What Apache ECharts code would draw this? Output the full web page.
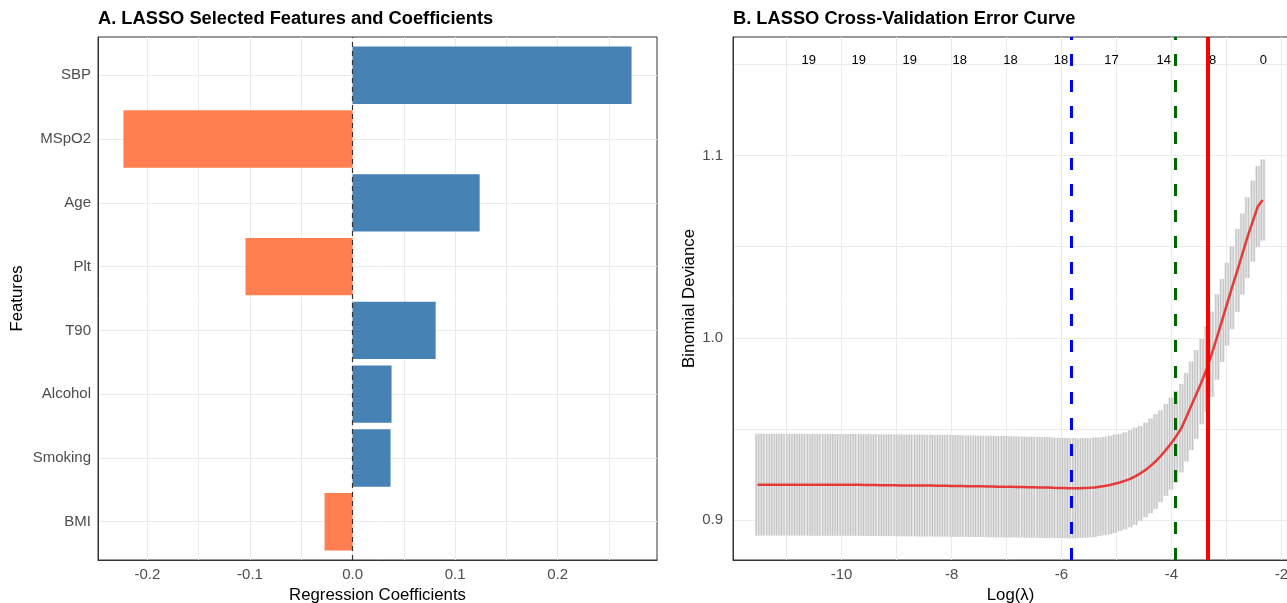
<!DOCTYPE html>
<html><head><meta charset="utf-8">
<script src="https://cdn.jsdelivr.net/npm/echarts@6/dist/echarts.min.js"></script>
<style>html,body{margin:0;padding:0;background:#fff}#c{width:1287px;height:603px}</style>
</head><body><div id="c"></div>
<script>
// ---- Panel A data ----
const features = ['BMI', 'Smoking', 'Alcohol', 'T90', 'Plt', 'Age', 'MSpO2', 'SBP'];
const coefs = [-0.0273, 0.037, 0.038, 0.081, -0.1044, 0.1239, -0.2234, 0.272];
const coefTicks = [-0.2, -0.1, 0, 0.1, 0.2];
const coefGrid = [-0.2, -0.15, -0.1, -0.05, 0, 0.05, 0.1, 0.15, 0.2, 0.25];
const featurePos = [0, 1, 2, 3, 4, 5, 6, 7];

// ---- Panel B data ----
const logLambda = [-11.53,-11.44,-11.34,-11.25,-11.16,-11.07,-10.97,-10.88,-10.79,-10.70,
-10.60,-10.51,-10.42,-10.32,-10.23,-10.14,-10.05,-9.95,-9.86,-9.77,
-9.67,-9.58,-9.49,-9.40,-9.30,-9.21,-9.12,-9.02,-8.93,-8.84,
-8.75,-8.65,-8.56,-8.47,-8.37,-8.28,-8.19,-8.10,-8.00,-7.91,
-7.82,-7.72,-7.63,-7.54,-7.45,-7.35,-7.26,-7.17,-7.07,-6.98,
-6.89,-6.80,-6.70,-6.61,-6.52,-6.42,-6.33,-6.24,-6.15,-6.05,
-5.96,-5.87,-5.77,-5.68,-5.59,-5.50,-5.40,-5.31,-5.22,-5.12,
-5.03,-4.94,-4.85,-4.75,-4.66,-4.57,-4.47,-4.38,-4.29,-4.20,
-4.10,-4.01,-3.92,-3.82,-3.73,-3.64,-3.55,-3.45,-3.36,-3.27,
-3.17,-3.08,-2.99,-2.90,-2.80,-2.71,-2.62,-2.52,-2.43,-2.34];
const cvMean = [0.9195,0.9195,0.9195,0.9195,0.9195,0.9195,0.9195,0.9195,0.9195,0.9195,
0.9194,0.9194,0.9194,0.9194,0.9194,0.9194,0.9194,0.9194,0.9194,0.9194,
0.9194,0.9193,0.9193,0.9193,0.9192,0.9192,0.9192,0.9192,0.9191,0.9191,
0.9191,0.9191,0.9190,0.9190,0.9190,0.9189,0.9189,0.9189,0.9188,0.9188,
0.9188,0.9187,0.9187,0.9186,0.9186,0.9185,0.9185,0.9184,0.9184,0.9183,
0.9183,0.9182,0.9182,0.9181,0.9181,0.9180,0.9179,0.9179,0.9178,0.9177,
0.9177,0.9176,0.9176,0.9176,0.9177,0.9178,0.9180,0.9184,0.9188,0.9193,
0.9200,0.9207,0.9216,0.9227,0.9241,0.9256,0.9276,0.9298,0.9322,0.9351,
0.9386,0.9420,0.9458,0.9505,0.9565,0.9628,0.9690,0.9760,0.9830,0.9910,
1.0005,1.0095,1.0185,1.0275,1.0370,1.0460,1.0550,1.0640,1.0720,1.0756];
const cvSE = [0.0279,0.0279,0.0279,0.0279,0.0279,0.0279,0.0279,0.0279,0.0279,0.0279,
0.0279,0.0279,0.0279,0.0279,0.0279,0.0279,0.0279,0.0279,0.0279,0.0279,
0.0279,0.0279,0.0279,0.0279,0.0279,0.0279,0.0279,0.0279,0.0279,0.0279,
0.0279,0.0279,0.0279,0.0279,0.0279,0.0279,0.0279,0.0279,0.0279,0.0279,
0.0278,0.0278,0.0278,0.0278,0.0278,0.0278,0.0278,0.0278,0.0278,0.0278,
0.0277,0.0277,0.0277,0.0277,0.0277,0.0277,0.0277,0.0277,0.0275,0.0275,
0.0275,0.0275,0.0275,0.0273,0.0273,0.0273,0.0273,0.0270,0.0270,0.0270,
0.0270,0.0266,0.0266,0.0266,0.0266,0.0260,0.0260,0.0260,0.0260,0.0252,
0.0252,0.0252,0.0252,0.0243,0.0243,0.0243,0.0243,0.0234,0.0234,0.0234,
0.0234,0.0227,0.0227,0.0227,0.0227,0.0222,0.0222,0.0222,0.0222,0.0222];
const lambdaTicks = [-10, -8, -6, -4, -2];
const lambdaGrid = [-11, -10, -9, -8, -7, -6, -5, -4, -3, -2];
const devTicks = [0.9, 1.0, 1.1];
const devGrid = [0.9, 0.95, 1.0, 1.05, 1.1, 1.15];
const nzPos = [-10.60, -9.69, -8.76, -7.85, -6.93, -6.01, -5.09, -4.14, -3.25, -2.33];
const nzCount = ['19', '19', '19', '18', '18', '18', '17', '14', '8', '0'];
const nzY = 1.152;
const lambdaMin = -5.83, lambda1se = -3.94, lambdaSel = -3.34;

const FONT = "'Liberation Sans', Arial, Helvetica, sans-serif";
const chart = echarts.init(document.getElementById('c'), null, {renderer: 'canvas'});

const gridLine = {show: true, lineStyle: {color: '#ebebeb', width: 1}};
const lbl = {color: '#4d4d4d', fontSize: 15, fontFamily: FONT};
const nameStyle = {color: '#000', fontSize: 16.8, fontFamily: FONT};
const axLine = {show: true, onZero: false, lineStyle: {color: '#333', width: 1}};
const titleStyle = {fontSize: 18.3, fontWeight: 'bold', color: '#000', fontFamily: FONT};

chart.setOption({
  animation: false,
  title: [
    {text: 'A. LASSO Selected Features and Coefficients', left: 98, top: 10, padding: 0, textStyle: titleStyle},
    {text: 'B. LASSO Cross-Validation Error Curve', left: 733, top: 10, padding: 0, textStyle: titleStyle}
  ],
  grid: [
    {left: 98, top: 37, width: 559, height: 523, outerBoundsMode: 'none', containLabel: false,
     show: true, borderColor: '#333', borderWidth: 1, backgroundColor: 'transparent'},
    {left: 733, top: 37, width: 555, height: 523, outerBoundsMode: 'none', containLabel: false,
     show: true, borderColor: '#333', borderWidth: 1, backgroundColor: 'transparent'}
  ],
  xAxis: [
    {type: 'value', gridIndex: 0, min: -0.2482, max: 0.2968,
     name: 'Regression Coefficients', nameLocation: 'middle', nameGap: 24, nameTextStyle: nameStyle,
     axisLine: axLine, axisTick: {show: false, customValues: coefGrid},
     axisLabel: Object.assign({customValues: coefTicks, margin: 7, formatter: v => v.toFixed(1)}, lbl),
     splitLine: gridLine},
    {type: 'value', gridIndex: 1, min: -11.976, max: -1.88,
     name: 'Log(λ)', nameLocation: 'middle', nameGap: 24, nameTextStyle: nameStyle,
     axisLine: axLine, axisTick: {show: false, customValues: lambdaGrid},
     axisLabel: Object.assign({customValues: lambdaTicks, margin: 7, formatter: v => String(v)}, lbl),
     splitLine: gridLine}
  ],
  yAxis: [
    {type: 'value', gridIndex: 0, min: -0.6, max: 7.6,
     name: 'Features', nameLocation: 'middle', nameGap: 72, nameTextStyle: nameStyle,
     axisLine: axLine, axisTick: {show: false, customValues: featurePos},
     axisLabel: Object.assign({customValues: featurePos, margin: 7, formatter: v => features[Math.round(v)]}, lbl),
     splitLine: gridLine},
    {type: 'value', gridIndex: 1, min: 0.8782, max: 1.165,
     name: 'Binomial Deviance', nameLocation: 'middle', nameGap: 35, nameTextStyle: nameStyle,
     axisLine: axLine, axisTick: {show: false, customValues: devGrid},
     axisLabel: Object.assign({customValues: devTicks, margin: 10, formatter: v => v.toFixed(1)}, lbl),
     splitLine: gridLine}
  ],
  series: [
    {
      type: 'custom', xAxisIndex: 0, yAxisIndex: 0, z: 2,
      data: coefs.map((c, i) => [c, featurePos[i]]),
      encode: {x: 0, y: 1},
      renderItem: (params, api) => {
        const v = api.value(0), y = api.value(1);
        const a = api.coord([0, y + 0.45]);
        const b = api.coord([v, y - 0.45]);
        return {type: 'rect', shape: {x: Math.min(a[0], b[0]), y: a[1], width: Math.abs(b[0] - a[0]), height: b[1] - a[1]},
                style: {fill: v >= 0 ? '#4682B4' : '#FF7F50'}};
      },
      markLine: {silent: true, symbol: ['none', 'none'], label: {show: false},
        lineStyle: {color: '#333', type: [5, 4], width: 1.2},
        data: [{xAxis: 0}]}
    },
    {
      type: 'custom', xAxisIndex: 1, yAxisIndex: 1, z: 2,
      data: logLambda.map((x, i) => [x, cvMean[i] - cvSE[i], cvMean[i] + cvSE[i]]),
      encode: {x: 0, y: [1, 2]},
      renderItem: (params, api) => {
        const x = api.value(0);
        const lo = api.coord([x, api.value(1)]);
        const hi = api.coord([x, api.value(2)]);
        const h = lo[1] - hi[1];
        return {type: 'group', children: [
          {type: 'rect', shape: {x: hi[0] - 2.6, y: hi[1], width: 5.2, height: h}, style: {fill: '#e4e4e4'}},
          {type: 'line', shape: {x1: hi[0] - 1.3, y1: hi[1], x2: hi[0] - 1.3, y2: lo[1]}, style: {stroke: '#bcbcbc', lineWidth: 0.9}},
          {type: 'line', shape: {x1: hi[0] + 1.3, y1: hi[1], x2: hi[0] + 1.3, y2: lo[1]}, style: {stroke: '#bcbcbc', lineWidth: 0.9}}
        ]};
      }
    },
    {
      type: 'line', xAxisIndex: 1, yAxisIndex: 1, z: 3,
      data: logLambda.map((x, i) => [x, cvMean[i]]),
      showSymbol: false, symbol: 'none',
      lineStyle: {color: 'rgba(232,30,30,0.85)', width: 2.5},
      markLine: {silent: true, symbol: ['none', 'none'], label: {show: false},
        data: [
          {xAxis: lambdaMin, lineStyle: {color: '#0000ff', type: [12, 14], width: 3}},
          {xAxis: lambda1se, lineStyle: {color: '#006400', type: [12, 14], width: 3}},
          {xAxis: lambdaSel, lineStyle: {color: '#ff0000', type: 'solid', width: 4}}
        ]}
    },
    {
      type: 'custom', xAxisIndex: 1, yAxisIndex: 1, z: 4,
      data: nzPos.map((x, i) => [x, nzY, nzCount[i]]),
      encode: {x: 0, y: 1},
      renderItem: (params, api) => {
        const p = api.coord([api.value(0), api.value(1)]);
        return {type: 'text', x: p[0], y: p[1],
                style: {text: nzCount[params.dataIndex], fill: '#000', fontSize: 13, fontFamily: FONT, align: 'center', verticalAlign: 'middle'}};
      }
    }
  ]
});
</script></body></html>
